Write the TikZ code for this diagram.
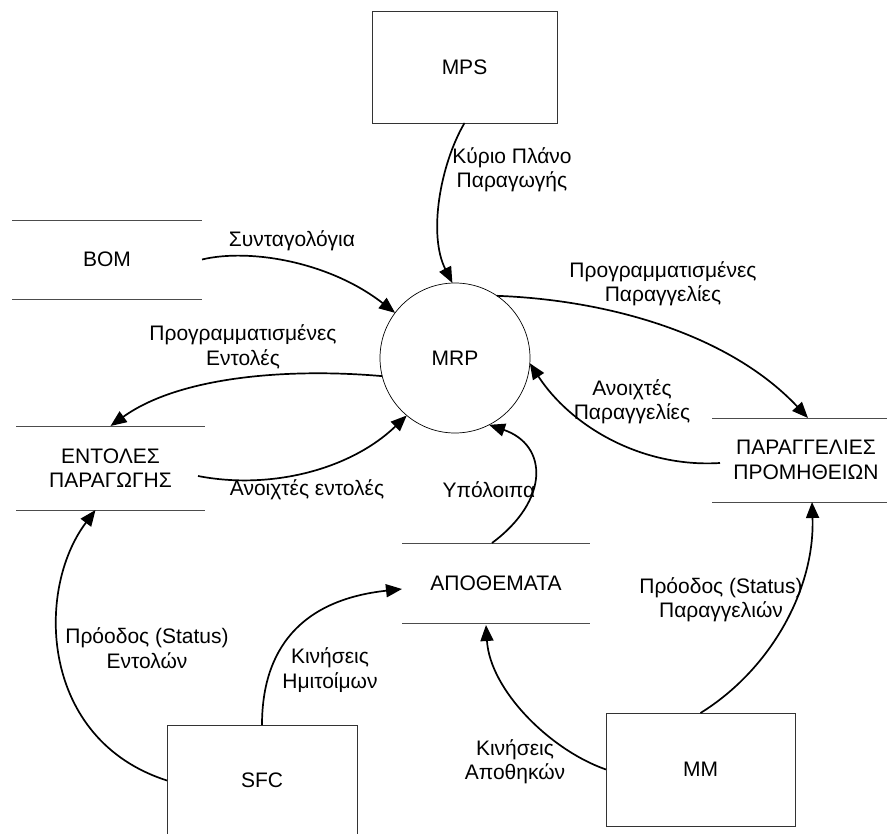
\documentclass[tikz,border=0pt]{standalone}
\usepackage{fontspec}
\setmainfont{Liberation Sans}
\usetikzlibrary{arrows.meta,calc}

\tikzset{
  procbox/.style={draw=black!80, line width=0.9pt, rectangle, inner sep=0pt, outer sep=0pt},
  storebox/.style={rectangle, inner sep=0pt, outer sep=0pt, align=center},
  storeline/.style={draw=black!70, line width=0.9pt},
  bubble/.style={draw=black, line width=0.7pt, circle, inner sep=0pt, outer sep=0pt, minimum size=150pt},
  flow/.style={draw=black, line width=1.7pt, -{Triangle[length=16pt,width=13pt]}},
  lbl/.style={align=center, inner sep=0pt}
}

\begin{document}
\begin{tikzpicture}[x=1pt, y=-1pt, font=\fontsize{21}{24.5}\selectfont]
  \clip (0,0) rectangle (887,834);
  \fill[white] (0,0) rectangle (887,834);

  % external entities
  \node[procbox, minimum width=185, minimum height=112] (mps) at (464.5,67) {MPS};
  \node[procbox, minimum width=190, minimum height=111] (sfc) at (262,780.5) {SFC};
  \node[procbox, minimum width=189, minimum height=113] (mm) at (700.5,769.5) {MM};

  % process
  \node[bubble] (mrp) at (455,358) {MRP};

  % data stores
  \node[storebox, minimum width=190, minimum height=79] (bom) at (107,259.5) {BOM};
  \node[storebox, minimum width=189, minimum height=84] (ent) at (110.5,468) {ΕΝΤΟΛΕΣ\\ΠΑΡΑΓΩΓΗΣ};
  \node[storebox, minimum width=188, minimum height=84] (par) at (806,460) {ΠΑΡΑΓΓΕΛΙΕΣ\\ΠΡΟΜΗΘΕΙΩΝ};
  \node[storebox, minimum width=188, minimum height=80] (apo) at (496,583) {ΑΠΟΘΕΜΑΤΑ};
  \foreach \n in {bom,ent,par,apo}
    \draw[storeline] (\n.north west) -- (\n.north east) (\n.south west) -- (\n.south east);

  % data flows
  \draw[flow] (mps.south) .. controls (440,165) and (428,235) .. (mrp.92);
  \draw[flow] (bom.east) .. controls (250,248) and (330,262) .. (mrp.143);
  \draw[flow] (mrp.194) .. controls (290,368) and (180,376) .. (ent.north);
  \draw[flow] ($(ent.east)+(-7,8)$) .. controls (270,490) and (350,470) .. (mrp.230);
  \draw[flow] (mrp.56) .. controls (610,300) and (730,335) .. ($(par.north)+(2,0)$);
  \draw[flow] ($(par.west)+(8,3)$) .. controls (640,468) and (570,425) .. (mrp.356);
  \draw[flow] ($(apo.north)+(-4,0)$) .. controls (550,500) and (548,445) .. (mrp.297);
  \draw[flow] (sfc.north) .. controls (262,650) and (300,600) .. ($(apo.west)+(0,6)$);
  \draw[flow] (sfc.west) .. controls (40,740) and (35,590) .. ($(ent.south)+(-15,0)$);
  \draw[flow] (mm.west) .. controls (550,750) and (490,690) .. ($(apo.south)+(-10,2)$);
  \draw[flow] (mm.north) .. controls (770,670) and (815,590) .. ($(par.south)+(6,0)$);

  % flow labels
  \node[lbl] (lkyrio) at (512,170) {Κύριο Πλάνο\\Παραγωγής};
  \node[lbl] (lsynt) at (292,241) {Συνταγολόγια};
  \node[lbl] (lprogent) at (243,347) {Προγραμματισμένες\\Εντολές};
  \node[lbl] (lanoixent) at (307,490) {Ανοιχτές εντολές};
  \node[lbl] (lprogpar) at (663,284) {Προγραμματισμένες\\Παραγγελίες};
  \node[lbl] (lanoixpar) at (632,402) {Ανοιχτές\\Παραγγελίες};
  \node[lbl] (lypol) at (489,490) {Υπόλοιπα};
  \node[lbl] (lkinhm) at (330,670) {Κινήσεις\\Ημιτοίμων};
  \node[lbl] (lprent) at (147,648) {Πρόοδος (Status)\\Εντολών};
  \node[lbl] (lkinap) at (515,762) {Κινήσεις\\Αποθηκών};
  \node[lbl] (lprpar) at (721,600) {Πρόοδος (Status)\\Παραγγελιών};
\end{tikzpicture}
\end{document}
